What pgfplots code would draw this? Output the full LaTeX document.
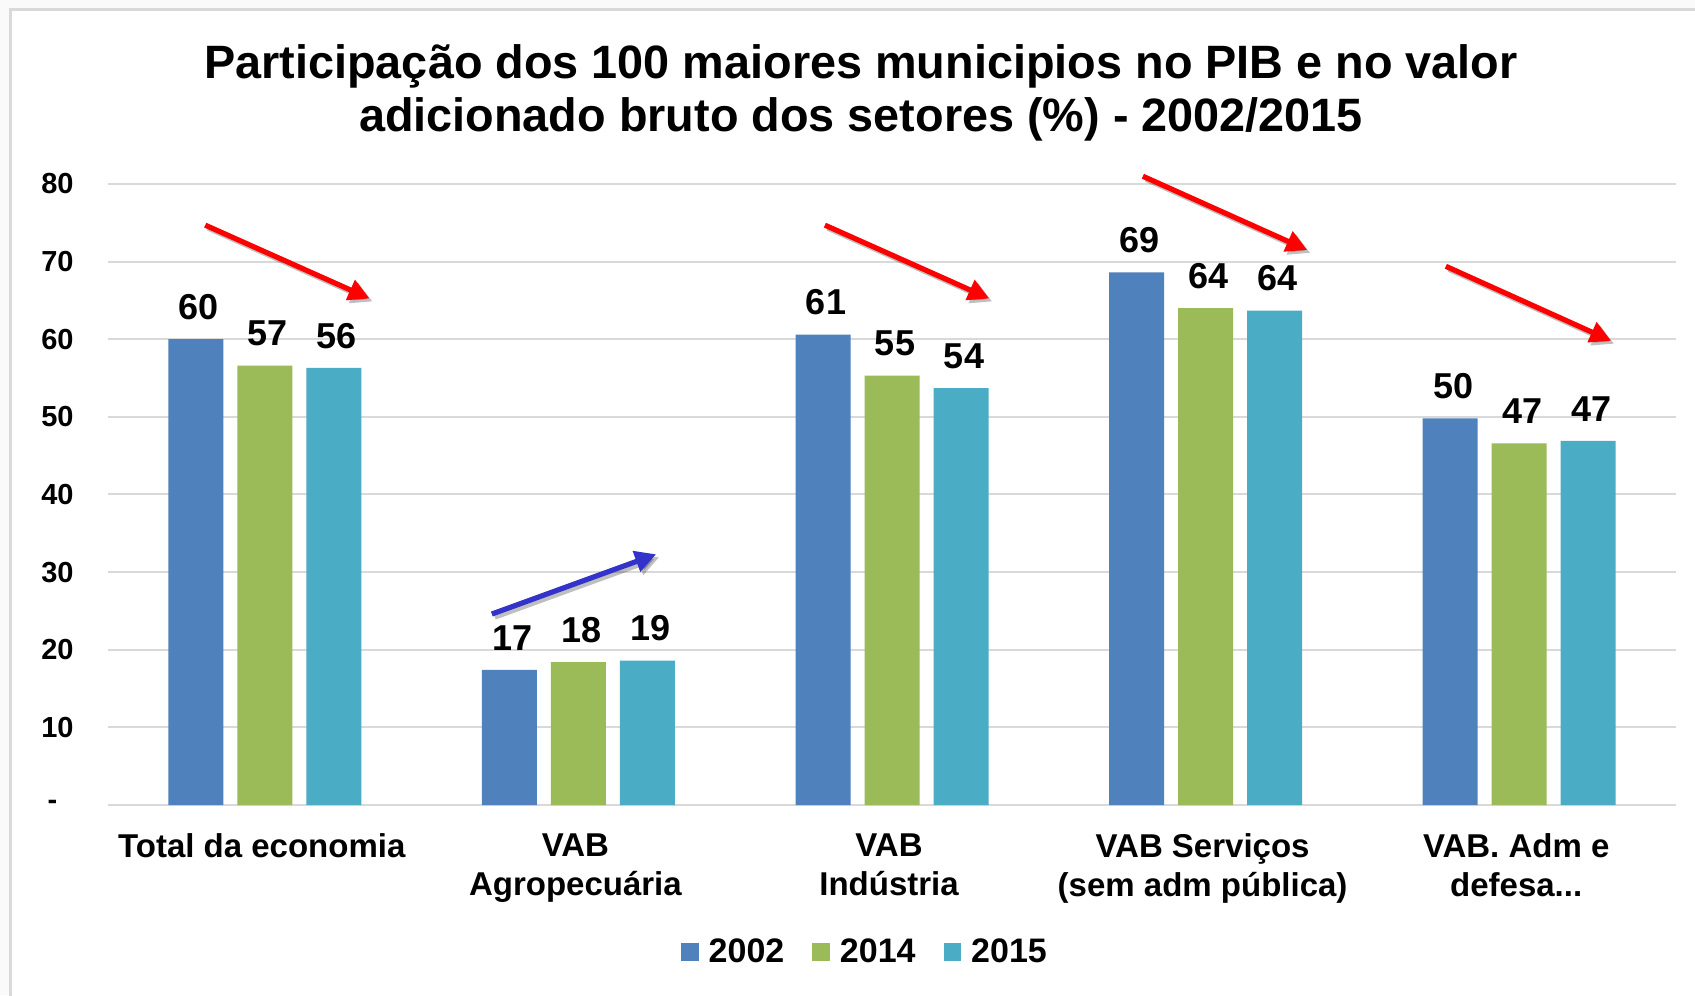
\documentclass[border=0pt]{standalone}
\usepackage{fontspec}
\setmainfont{Liberation Sans}
\usepackage{pgfplots}
\pgfplotsset{compat=1.18}
\usetikzlibrary{arrows.meta}
\definecolor{c02}{HTML}{4F81BD}
\definecolor{c14}{HTML}{9BBB59}
\definecolor{c15}{HTML}{4BACC6}
\definecolor{gridc}{HTML}{D9D9D9}
\definecolor{arrred}{HTML}{FF0000}
\definecolor{arrblue}{HTML}{3333CC}
\newcommand\arr[5]{%
  \draw[black, opacity=0.25, line width=2.6pt, -{Triangle[length=10.5pt,width=10.5pt]}]
    ([xshift=1.5pt,yshift=-1.5pt]axis cs:#2,#3) -- ([xshift=1.5pt,yshift=-1.5pt]axis cs:#4,#5);
  \draw[#1, line width=2.6pt, -{Triangle[length=10.5pt,width=10.5pt]}]
    (axis cs:#2,#3) -- (axis cs:#4,#5);}
\begin{document}
\begin{tikzpicture}
\useasboundingbox (0,0) rectangle (847.5pt,497.5pt);
\fill[black!2] (0,0) rectangle (847.5pt,497.5pt);
\draw[gridc, line width=1.5pt, fill=white] (5pt,-20pt) rectangle (870pt,492.5pt);
\node[font=\bfseries\fontsize{23.4}{26.3}\selectfont, align=center] at (430.5pt,451pt)
  {Participação dos 100 maiores municipios no PIB e no valor\\adicionado bruto dos setores (\%) - 2002/2015};
\begin{axis}[
  at={(54pt,95pt)}, anchor=south west,
  scale only axis, width=784pt, height=310.5pt,
  xmin=-0.5, xmax=4.5, ymin=0, ymax=80,
  ybar=7pt, bar width=27.5pt,
  axis line style={draw=none},
  major tick length=0pt,
  ymajorgrids, grid style={color=gridc, line width=1pt},
  ytick={0,10,20,30,40,50,60,70,80},
  yticklabels={{\makebox[13pt][l]{-}},10,20,30,40,50,60,70,80},
  yticklabel style={font=\bfseries\fontsize{14.5}{17}\selectfont, inner sep=0pt, xshift=-17pt},
  xtick={0,1,2,3,4},
  xticklabels={{Total da economia},{VAB\\Agropecuária},{VAB\\Indústria},{VAB Serviços\\(sem adm pública)},{VAB. Adm e\\defesa.{}.{}.}},
  xticklabel style={font=\bfseries\fontsize{16.5}{19.5}\selectfont, align=center, anchor=north, inner sep=0pt, yshift=-14pt, xshift=-1.5pt},
  /pgf/number format/assume math mode=true,
  nodes near coords={\pgfmathprintnumber[fixed,precision=0]{\pgfplotspointmeta}},
  nodes near coords style={font=\bfseries\fontsize{18}{20}\selectfont, anchor=south, inner sep=0pt, yshift=9.5pt, xshift=1.5pt, text=black},
  legend style={at={(0.4834,-0.2367)}, anchor=center, draw=none, fill=none, legend columns=-1,
    font=\bfseries\fontsize{17}{20}\selectfont,
    /tikz/every even column/.append style={column sep=12pt}},
  clip=false,
]
\addplot[fill=c02, draw=none, legend image code/.code={\fill[c02] (0pt,-4.4pt) rectangle (8.8pt,4.4pt);}]
  coordinates {(0,60.0) (1,17.4) (2,60.6) (3,68.6) (4,49.8)};
\addplot[fill=c14, draw=none, legend image code/.code={\fill[c14] (0pt,-4.4pt) rectangle (8.8pt,4.4pt);}]
  coordinates {(0,56.6) (1,18.4) (2,55.3) (3,64.0) (4,46.6)};
\addplot[fill=c15, draw=none, legend image code/.code={\fill[c15] (0pt,-4.4pt) rectangle (8.8pt,4.4pt);}]
  coordinates {(0,56.3) (1,18.6) (2,53.7) (3,63.7) (4,46.9)};
\legend{\hspace{3pt}2002,\hspace{3pt}2014,\hspace{3pt}2015}
\arr{arrred}{-0.19}{74.7}{0.334}{65.25}
\arr{arrblue}{0.724}{24.6}{1.248}{32.3}
\arr{arrred}{1.786}{74.7}{2.31}{65.25}
\arr{arrred}{2.80}{81.0}{3.324}{71.5}
\arr{arrred}{3.766}{69.4}{4.293}{59.8}
\end{axis}
\end{tikzpicture}
\end{document}
